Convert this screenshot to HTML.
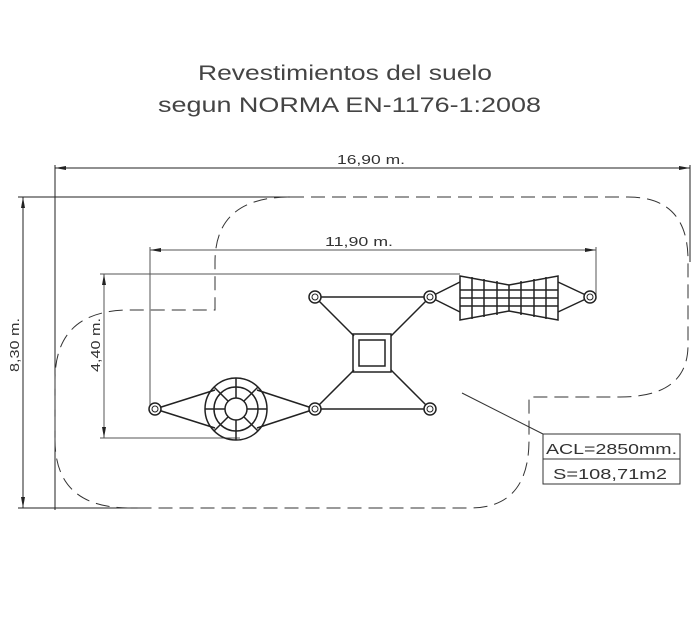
<!DOCTYPE html>
<html><head><meta charset="utf-8"><style>html,body{margin:0;padding:0;background:#fff}svg{display:block}</style></head>
<body>
<svg width="700" height="619" viewBox="0 0 700 619" xmlns="http://www.w3.org/2000/svg" font-family="Liberation Sans, sans-serif">
<rect width="700" height="619" fill="#fff"/>
<g fill="#444" font-size="21">
<text x="198" y="80" textLength="294" lengthAdjust="spacingAndGlyphs">Revestimientos del suelo</text>
<text x="158" y="112" textLength="383" lengthAdjust="spacingAndGlyphs">segun NORMA EN-1176-1:2008</text>
</g>
<g stroke="#222" stroke-width="1" fill="none">
<line x1="55" y1="168" x2="690" y2="168"/>
<line x1="55" y1="165" x2="55" y2="510"/>
<line x1="690" y1="165" x2="690" y2="262"/>
<line x1="18" y1="197" x2="300" y2="197"/>
<line x1="18" y1="508" x2="140" y2="508"/>
<line x1="23" y1="197" x2="23" y2="508"/>
</g>
<g stroke="#555" stroke-width="1" fill="none">
<line x1="150" y1="250" x2="596" y2="250"/>
<line x1="150" y1="247" x2="150" y2="410"/>
<line x1="596" y1="247" x2="596" y2="296"/>
<line x1="100" y1="274" x2="460" y2="274"/>
<line x1="100" y1="438" x2="240" y2="438"/>
<line x1="104" y1="274" x2="104" y2="438"/>
</g>
<g fill="#222">
<polygon points="55,168 66,166 66,170"/><polygon points="690,168 679,166 679,170"/>
<polygon points="23,197 21,208 25,208"/><polygon points="23,508 21,497 25,497"/>
<polygon points="150,250 161,248 161,252"/><polygon points="596,250 585,248 585,252"/>
<polygon points="104,274 102,285 106,285"/><polygon points="104,438 102,427 106,427"/>
</g>
<g fill="#333" font-size="13">
<text x="337" y="164" textLength="68" lengthAdjust="spacingAndGlyphs">16,90 m.</text>
<text x="325" y="246" textLength="68" lengthAdjust="spacingAndGlyphs">11,90 m.</text>
<text transform="translate(19,372) rotate(-90)" textLength="54" lengthAdjust="spacingAndGlyphs">8,30 m.</text>
<text transform="translate(100,372) rotate(-90)" textLength="54" lengthAdjust="spacingAndGlyphs">4,40 m.</text>
</g>
<path d="M290,197 L628,197 Q688,197 688,260 L688,345 Q688,397 620,397 L529,397 L529,440 Q529,508 470,508 L130,508 Q55,508 55,440 L55,380 Q55,310 130,310 L215,310 L215,262 Q215,197 290,197 Z" fill="none" stroke="#333" stroke-width="1" stroke-dasharray="14,7"/>
<line x1="462" y1="393" x2="543" y2="434" stroke="#333"/>
<rect x="543" y="434" width="137" height="50" fill="none" stroke="#333"/>
<line x1="543" y1="459" x2="680" y2="459" stroke="#333"/>
<g fill="#333" font-size="15">
<text x="546" y="454" textLength="131" lengthAdjust="spacingAndGlyphs">ACL=2850mm.</text>
<text x="553" y="479" textLength="114" lengthAdjust="spacingAndGlyphs">S=108,71m2</text>
</g>
<g stroke="#222" fill="none" stroke-width="1.5">
<line x1="315" y1="297" x2="430" y2="297"/>
<line x1="315" y1="409" x2="430" y2="409"/>
<line x1="315" y1="297" x2="354" y2="336"/>
<line x1="430" y1="297" x2="391" y2="336"/>
<line x1="315" y1="409" x2="354" y2="370"/>
<line x1="430" y1="409" x2="391" y2="370"/>
<rect x="353" y="334" width="38" height="38"/>
<rect x="359" y="340" width="26" height="26"/>
<path d="M155,409 L215,390 M155,409 L215,428 M257,390 L315,409 M257,428 L315,409"/>
<circle cx="236" cy="409" r="31"/>
<circle cx="236" cy="409" r="22"/>
<circle cx="236" cy="409" r="11"/>
<path d="M236,378 V398 M236,420 V440 M205,409 H225 M247,409 H267 M214,387 L228,401 M258,387 L244,401 M214,431 L228,417 M258,431 L244,417"/>
<path d="M430,297 L460,282 M430,297 L460,312 M558,282 L590,297 M558,312 L590,297"/>
<path d="M460,276 L509,285 L558,276 L558,320 L509,311 L460,320 Z"/>
<path d="M460,290 H558 M460,298 H558 M460,306 H558 M472,277 V319 M484,279 V317 M497,281 V315 M509,285 V311 M521,281 V315 M534,279 V317 M546,277 V319"/>
</g>
<g stroke="#222" stroke-width="1.5" fill="#fff">
<circle cx="155" cy="409" r="6"/><circle cx="315" cy="409" r="6"/><circle cx="430" cy="409" r="6"/>
<circle cx="315" cy="297" r="6"/><circle cx="430" cy="297" r="6"/><circle cx="590" cy="297" r="6"/>
</g>
<g stroke="#222" stroke-width="1" fill="none">
<circle cx="155" cy="409" r="3"/><circle cx="315" cy="409" r="3"/><circle cx="430" cy="409" r="3"/>
<circle cx="315" cy="297" r="3"/><circle cx="430" cy="297" r="3"/><circle cx="590" cy="297" r="3"/>
</g>
</svg>
</body></html>
